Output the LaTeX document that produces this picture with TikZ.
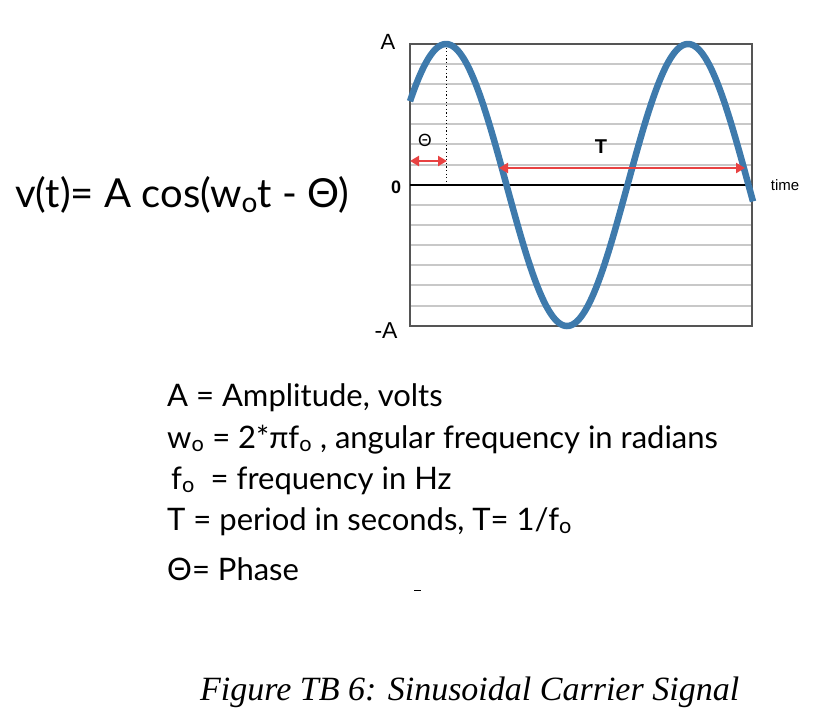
\documentclass[tikz,border=0pt]{standalone}
\usepackage{fontspec}
\setmainfont{Lato}
\newfontfamily\labfont{Liberation Sans}
\newfontfamily\capfont{Liberation Serif}
\usetikzlibrary{arrows.meta}
\definecolor{sineblue}{RGB}{62,122,172}
\definecolor{arrred}{RGB}{232,66,66}
\definecolor{gridgray}{RGB}{200,200,200}
\definecolor{boxgray}{RGB}{85,85,85}
\newcommand{\subo}{\textsubscript{o}}
\tikzset{
  gridline/.style={gridgray, line width=1.5pt},
  boxline/.style={boxgray, line width=1.2pt},
  zeroline/.style={black, line width=1.5pt},
  sine/.style={sineblue, line width=6.5pt},
  redarrow/.style={arrred, line width=2.4pt, {Triangle[length=9pt,width=10pt]}-{Triangle[length=9pt,width=10pt]}},
  dotline/.style={black, line width=1pt, dash pattern=on 1.2pt off 2.4pt},
  axlab/.style={font=\labfont\fontsize{23}{23}\selectfont, inner sep=0pt},
  eqtext/.style={font=\fontsize{40}{40}\selectfont, inner sep=0pt, anchor=base west},
  deftext/.style={font=\fontsize{31}{31}\selectfont, inner sep=0pt, anchor=base west},
  captext/.style={font=\capfont\itshape\fontsize{34}{34}\selectfont, inner sep=0pt, anchor=base west},
}
\begin{document}
\begin{tikzpicture}[x=1pt,y=-1pt]
\useasboundingbox (0,0) rectangle (834,724);
% grid
\foreach \yy in {64,84,104,124,144,165,205,225,245,265,285,306}
  \draw[gridline] (410,\yy) -- (752,\yy);
\draw[boxline] (410,44) rectangle (752,326);
\draw[zeroline] (410,185) -- (752,185);
% dotted line at peak
\coordinate (pk) at (446,44);
\coordinate (pk0) at (446,185);
\draw[dotline] (pk) -- (pk0);
% sine
\draw[sine, line cap=butt] plot[domain=410:753, samples=200] (\x, {185 - 141*cos(1.48760*(\x-446))});
% arrows
\coordinate (th1) at (410,161);
\coordinate (th2) at (447,161);
\draw[redarrow] (th1) -- (th2);
\node[font=\fontsize{17}{17}\selectfont, inner sep=0pt] (thlab) at (425,140) {Θ};
\coordinate (tp1) at (499,168);
\coordinate (tp2) at (745,168);
\draw[redarrow] (tp1) -- (tp2);
\node[font=\labfont\bfseries\fontsize{20}{20}\selectfont, inner sep=0pt] (tlab) at (601,147) {T};
% axis labels
\node[axlab, font=\labfont\fontsize{22}{22}\selectfont] (lA) at (388,42) {A};
\node[axlab, font=\labfont\bfseries\fontsize{18}{18}\selectfont] (l0) at (396,187) {0};
\node[axlab] (lmA) at (386,331) {-A};
\node[axlab, font=\labfont\fontsize{15}{15}\selectfont] (ltime) at (785,185) {time};
% equation
\node[eqtext] (eq) at (15,207) {v(t)= A cos(w\subo t - Θ)};
% definitions
\node[deftext] (d1) at (167,406) {A = Amplitude, volts};
\node[deftext] (d2) at (167,448) {w\subo\ = 2*πf\subo\ , angular frequency in radians};
\node[deftext] (d3) at (171,489) {f\subo\ \ = frequency in Hz};
\node[deftext] (d4) at (167,530) {T = period in seconds, T= 1/f\subo};
\node[deftext] (d5) at (167,580) {Θ= Phase};
\coordinate (m1) at (414,590);
\coordinate (m2) at (421,590);
\draw[black, line width=1pt] (m1) -- (m2);
% caption
\node[captext] (cap) at (200,700) {Figure TB 6: Sinusoidal Carrier Signal};
\end{tikzpicture}
\end{document}
